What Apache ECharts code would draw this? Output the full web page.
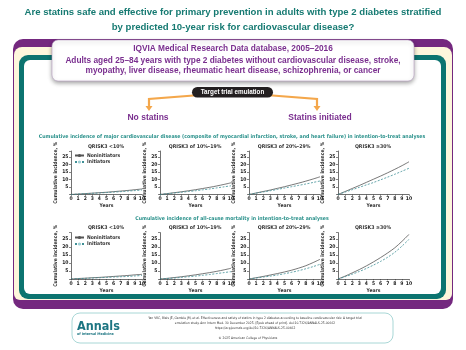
<!DOCTYPE html>
<html><head><meta charset="utf-8">
<script src="https://cdn.jsdelivr.net/npm/echarts@6/dist/echarts.min.js"></script>
<style>html,body{margin:0;padding:0;background:#fff}#c{width:466px;height:350px}</style>
</head><body><div id="c"></div>
<script>
// ---- data ----
const years = [0,1,2,3,4,5,6,7,8,9,10];
const panelTitles = ['QRISK3 <10%', 'QRISK3 of 10%–19%', 'QRISK3 of 20%–29%', 'QRISK3 ≥30%'];
const yTicks = [5,10,15,20,25];
// Major cardiovascular disease (row 1)
const cvdNon1  = [0,0.3,0.6,0.9,1.2,1.5,1.9,2.3,2.7,3.2,3.7];
const cvdInit1 = [0,0.3,0.5,0.8,1.0,1.3,1.6,1.9,2.3,2.6,3.0];
const cvdNon2  = [0,0.6,1.2,1.8,2.5,3.2,4.0,4.8,5.7,6.7,7.8];
const cvdInit2 = [0,0.5,1.0,1.5,2.0,2.5,3.1,3.7,4.4,5.1,5.8];
const cvdNon3  = [0,1.0,2.0,3.0,4.1,5.2,6.4,7.6,8.9,10.3,11.8];
const cvdInit3 = [0,0.9,1.7,2.5,3.4,4.3,5.2,6.1,7.0,8.0,9.0];
const cvdNon4  = [0,2.0,4.0,6.0,8.1,10.2,12.3,14.5,16.8,19.2,21.8];
const cvdInit4 = [0,1.6,3.2,4.8,6.4,8.0,9.8,11.6,13.5,15.5,17.5];
// All-cause mortality (row 2)
const morNon1  = [0,0.3,0.5,0.8,1.0,1.3,1.6,1.9,2.2,2.6,2.9];
const morInit1 = [0,0.2,0.4,0.6,0.8,1.0,1.2,1.4,1.6,1.9,2.2];
const morNon2  = [0,0.4,0.9,1.4,2.0,2.6,3.3,4.0,4.8,5.7,6.7];
const morInit2 = [0,0.3,0.6,1.0,1.4,1.8,2.3,2.8,3.4,4.0,4.6];
const morNon3  = [0,0.8,1.6,2.5,3.4,4.4,5.5,6.8,8.3,10.2,12.3];
const morInit3 = [0,0.6,1.2,1.8,2.5,3.3,4.2,5.2,6.4,7.7,9.2];
const morNon4  = [0,1.8,3.8,5.9,8.2,10.7,13.4,16.3,19.5,23.5,27.9];
const morInit4 = [0,1.4,3.0,4.7,6.6,8.7,11.0,13.6,16.7,20.5,24.8];

const rowNon  = [[cvdNon1,cvdNon2,cvdNon3,cvdNon4],[morNon1,morNon2,morNon3,morNon4]];
const rowInit = [[cvdInit1,cvdInit2,cvdInit3,cvdInit4],[morInit1,morInit2,morInit3,morInit4]];

// ---- layout ----
const NARROW = '"Liberation Sans Narrow","DejaVu Sans Condensed",sans-serif';
const SANS = '"Liberation Sans",Arial,sans-serif';
const PURPLE = '#74287f', TEAL = '#0c7470', TTEXT = '#167a72', STEAL = '#2a918b', ORANGE = '#f4a74b';
const gridLefts = [71, 160, 249, 338];
const gridW = 71;
const rowTop = [151, 232.6], rowH = [43.5, 46.4];

const grids = [], xAxes = [], yAxes = [], series = [];
for (let r = 0; r < 2; r++) {
  for (let p = 0; p < 4; p++) {
    const i = r*4+p;
    grids.push({left: gridLefts[p], top: rowTop[r], width: gridW, height: rowH[r], containLabel: false});
    xAxes.push({type:'value', gridIndex:i, min:0, max:10, interval:1,
      name:'Years', nameLocation:'middle', nameGap:9,
      nameTextStyle:{fontSize:5, fontFamily:NARROW, fontWeight:'bold', color:'#333'},
      axisLine:{lineStyle:{color:'#333', width:0.7}},
      axisTick:{length:1.5, lineStyle:{color:'#333', width:0.5}},
      axisLabel:{fontSize:5, fontFamily:NARROW, fontWeight:'bold', color:'#222', margin:2},
      splitLine:{show:false}});
    yAxes.push({type:'value', gridIndex:i, min:0, max:29, interval:5,
      name:'Cumulative incidence, %', nameLocation:'middle', nameGap:12, nameRotate:90,
      nameTextStyle:{fontSize:5, fontFamily:NARROW, fontWeight:'bold', color:'#333'},
      axisLine:{show:true, lineStyle:{color:'#333', width:0.7}},
      axisTick:{show:true, length:2, lineStyle:{color:'#333', width:0.6}},
      axisLabel:{fontSize:5, fontFamily:NARROW, fontWeight:'bold', color:'#222', margin:2.5,
        formatter: v => yTicks.indexOf(v) >= 0 ? String(v) : ''},
      splitLine:{show:false}});
    series.push({name:'Noninitiators', type:'line', xAxisIndex:i, yAxisIndex:i, smooth:0.3, symbol:'none',
      lineStyle:{color:'#555', width:0.8}, itemStyle:{color:'#555'},
      data: years.map((x,k)=>[x, rowNon[r][p][k]])});
    series.push({name:'Initiators', type:'line', xAxisIndex:i, yAxisIndex:i, smooth:0.3, symbol:'none',
      lineStyle:{color:'#3f8f95', width:0.8, type:[2,1.5]}, itemStyle:{color:'#9fd0d6'},
      data: years.map((x,k)=>[x, rowInit[r][p][k]])});
  }
}

function txt(x, y, text, size, color, opts) {
  opts = opts || {};
  return {type:'text', x:x, y:y, z:opts.z||20, style:{text:text, fill:color,
    font:(opts.weight||'bold') + ' ' + size + 'px ' + (opts.family||SANS),
    textAlign:opts.align||'center', textVerticalAlign:'middle', verticalAlign:'middle'}};
}

const graphics = [
  // frame
  {type:'rect', z:-10, shape:{x:13,y:39,width:440,height:270,r:10}, style:{fill:PURPLE}},
  {type:'rect', z:-9, shape:{x:14,y:47,width:438,height:253,r:[8,8,6,6]}, style:{fill:'#fdf6dc'}},
  {type:'rect', z:-8, shape:{x:19,y:55,width:427,height:244,r:9}, style:{fill:TEAL}},
  {type:'rect', z:-7, shape:{x:24,y:60,width:417,height:234,r:6}, style:{fill:'#fff'}},
  // header box
  {type:'rect', z:-5, shape:{x:52,y:40,width:362,height:41,r:6},
    style:{fill:'#fff', stroke:'#b9a0c4', lineWidth:0.6, shadowBlur:4, shadowOffsetY:2, shadowColor:'rgba(0,0,0,0.35)'}},
  txt(233, 12.5, 'Are statins safe and effective for primary prevention in adults with type 2 diabetes stratified', 9.6, TTEXT),
  txt(233, 27, 'by predicted 10-year risk for cardiovascular disease?', 9.6, TTEXT),
  txt(233, 49, 'IQVIA Medical Research Data database, 2005–2016', 8.3, '#7a2f8f'),
  txt(233, 60.5, 'Adults aged 25–84 years with type 2 diabetes without cardiovascular disease, stroke,', 8.3, '#7a2f8f'),
  txt(233, 71, 'myopathy, liver disease, rheumatic heart disease, schizophrenia, or cancer', 8.3, '#7a2f8f'),
  // target trial emulation
  {type:'polyline', z:5, shape:{points:[[200,95],[149,99],[149,107]]}, style:{stroke:ORANGE, lineWidth:2.2, fill:null}},
  {type:'polyline', z:5, shape:{points:[[266,95],[317,99],[317,107]]}, style:{stroke:ORANGE, lineWidth:2.2, fill:null}},
  {type:'polygon', z:5, shape:{points:[[145.5,106],[152.5,106],[149,111]]}, style:{fill:ORANGE}},
  {type:'polygon', z:5, shape:{points:[[313.5,106],[320.5,106],[317,111]]}, style:{fill:ORANGE}},
  {type:'rect', z:6, shape:{x:192,y:87,width:81,height:10.5,r:5.2}, style:{fill:'#231f20'}},
  txt(232.5, 92.3, 'Target trial emulation', 6.3, '#fff'),
  txt(148, 117.5, 'No statins', 8.5, '#7a2f8f'),
  txt(320, 117.5, 'Statins initiated', 8.5, '#7a2f8f'),
  // section titles
  txt(232, 137, 'Cumulative incidence of major cardiovascular disease (composite of myocardial infarction, stroke, and heart failure) in intention-to-treat analyses', 5.2, STEAL, {family:NARROW}),
  txt(232, 219, 'Cumulative incidence of all-cause mortality in intention-to-treat analyses', 5.2, STEAL, {family:NARROW}),
  // footer
  {type:'rect', z:-5, shape:{x:72,y:313,width:321,height:30,r:8}, style:{fill:'#fff', stroke:'#93cdcb', lineWidth:0.8}},
  txt(77, 327, 'Annals', 12.5, '#1c7582', {align:'left', family:NARROW}),
  txt(77, 334.5, 'of Internal Medicine', 3.6, '#1c7582', {align:'left', family:NARROW}),
  txt(255, 318.5, 'Yan VKC, Blais JE, Gamble JM, et al. Effectiveness and safety of statins in type 2 diabetes according to baseline cardiovascular risk: A target trial', 3.3, '#333', {family:NARROW, weight:'normal'}),
  txt(255, 323.5, 'emulation study. Ann Intern Med. 30 December 2025. [Epub ahead of print]. doi:10.7326/ANNALS-25-00662', 3.3, '#333', {family:NARROW, weight:'normal'}),
  txt(255, 328.5, 'https://acpjournals.org/doi/10.7326/ANNALS-25-00662', 3.3, '#333', {family:NARROW, weight:'normal'}),
  txt(248, 338, '© 2025 American College of Physicians', 3.3, '#333', {family:NARROW, weight:'normal'})
];
// panel titles
for (let r = 0; r < 2; r++) for (let p = 0; p < 4; p++) {
  graphics.push(txt(gridLefts[p] + 35, r === 0 ? 147 : 228, panelTitles[p], 5.2, '#333', {family:NARROW}));
}

const legendBase = {data:['Noninitiators','Initiators'], orient:'vertical', itemWidth:9, itemHeight:4, itemGap:1.5,
  textStyle:{fontSize:5, fontFamily:NARROW, fontWeight:'bold', color:'#333', padding:[0,0,0,-2]}, padding:0, selectedMode:false};

const chart = echarts.init(document.getElementById('c'), null, {renderer:'canvas'});
chart.setOption({
  animation:false,
  backgroundColor:'#fff',
  graphic: graphics,
  legend: [Object.assign({left:74, top:153}, legendBase), Object.assign({left:74, top:235}, legendBase)],
  grid: grids, xAxis: xAxes, yAxis: yAxes, series: series
});
</script></body></html>
